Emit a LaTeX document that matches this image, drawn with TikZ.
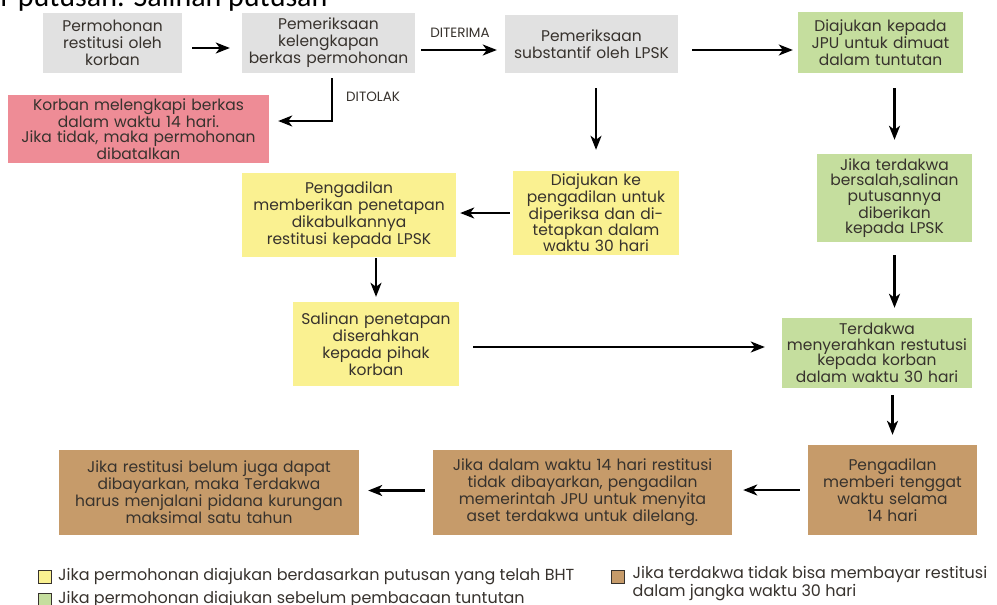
\documentclass[tikz,border=0pt]{standalone}
\usepackage{fontspec}
\setmainfont{Poppins}
\newfontfamily\atasfont{Carlito}
\usetikzlibrary{arrows.meta,positioning}
\definecolor{abu}{RGB}{225,225,225}
\definecolor{hijau}{RGB}{197,222,158}
\definecolor{kuning}{RGB}{250,241,145}
\definecolor{merah}{RGB}{238,140,150}
\definecolor{coklat}{RGB}{198,155,106}
\definecolor{tinta}{RGB}{55,50,45}

\begin{document}
\begin{tikzpicture}[x=1pt,y=-1pt,
	box/.style 2 args={inner xsep=0pt, inner ysep=2pt, align=center, text width=#1, minimum height=#2,
		font=\fontsize{15.5}{15.5}\selectfont, text=tinta},
	atas/.style={font=\fontsize{15.5}{17}\selectfont},
	arr/.style={-{Stealth[length=14pt,width=11pt,inset=4pt]}, line width=2.3pt},
	lbl/.style={font=\fontsize{13.5}{14}\selectfont, text=tinta, inner sep=0pt},
	legbox/.style={draw=tinta, line width=1pt, minimum size=13pt, inner sep=0pt},
	legtext/.style={font=\fontsize{16}{15}\selectfont, text=tinta, inner sep=0pt, align=left}]
	\useasboundingbox (0,0) rectangle (997,605);

	 \node[anchor=base west, inner sep=0pt, font=\atasfont\fontsize{30}{30}\selectfont] (judul) at (0.5,6) {r putusan. Salinan putusan};

	 \node[box={139pt}{60pt}, atas, fill=abu] (perm) at (112.5,43) {Permohonan\\restitusi oleh\\korban};
	 \node[box={173pt}{60pt}, atas, fill=abu] (lengkap) at (328.5,43) {Pemeriksaan\\kelengkapan\\berkas permohonan};
	 \node[box={173pt}{58pt}, atas, fill=abu] (subst) at (591.5,44) {Pemeriksaan\\substantif oleh LPSK};
	 \node[box={165pt}{61pt}, atas, fill=hijau] (jpu) at (880.5,42.5) {Diajukan kepada\\JPU untuk dimuat\\dalam tuntutan};
	 \node[box={261pt}{68pt}, fill=merah] (lengkapi) at (138.5,129) {Korban melengkapi berkas\\dalam waktu 14 hari.\\Jika tidak, maka permohonan\\dibatalkan};
	 \node[box={214pt}{84pt}, atas, fill=kuning] (tetap) at (349,215) {Pengadilan\\memberikan penetapan\\dikabulkannya\\restitusi kepada LPSK};
	 \node[box={166pt}{84pt}, fill=kuning] (ajukan) at (596,213) {Diajukan ke\\pengadilan untuk\\diperiksa dan di-\\tetapkan dalam\\waktu 30 hari};
	 \node[box={155pt}{88pt}, fill=hijau] (salah) at (894.5,198) {Jika terdakwa\\bersalah,salinan\\putusannya\\diberikan\\kepada LPSK};
	 \node[box={166pt}{84pt}, atas, fill=kuning] (salin) at (376,344) {Salinan penetapan\\diserahkan\\kepada pihak\\korban};
	 \node[box={190pt}{70pt}, fill=hijau] (serah) at (877,353) {Terdakwa\\menyerahkan restutusi\\kepada korban\\dalam waktu 30 hari};
	 \node[box={169pt}{90pt}, atas, fill=coklat] (tenggat) at (892.5,490) {Pengadilan\\memberi tenggat\\waktu selama\\14 hari};
	 \node[box={299pt}{85pt}, atas, fill=coklat] (sita) at (582.5,492.5) {Jika dalam waktu 14 hari restitusi\\tidak dibayarkan, pengadilan\\memerintah JPU untuk menyita\\aset terdakwa untuk dilelang.};
	 \node[box={300pt}{85pt}, atas, fill=coklat] (kurung) at (209,492.5) {Jika restitusi belum juga dapat\\dibayarkan, maka Terdakwa\\harus menjalani pidana kurungan\\maksimal satu tahun};

	 \draw[arr, shorten <=10pt, shorten >=12pt] ([yshift=-5pt]perm.east) -- ([yshift=-5pt]lengkap.west);
	 \draw[arr, shorten <=6pt, shorten >=8pt] ([yshift=-7pt]lengkap.east) -- node[lbl, yshift=17pt] {DITERIMA} ([yshift=-6pt]subst.west);
	 \draw[arr, shorten <=14pt, shorten >=5pt] ([yshift=-6pt]subst.east) -- ([yshift=-7.5pt]jpu.west);
	 \draw[arr, shorten <=5pt] ([xshift=3.5pt]lengkap.south) |- node[lbl, pos=0.25, anchor=west, xshift=13pt] {DITOLAK} ([xshift=9pt, yshift=8pt]lengkapi.east);
	 \draw[arr, shorten <=15pt, shorten >=21pt] (subst.south -| ajukan.north) -- (ajukan.north);
	 \draw[arr, shorten <=15pt, shorten >=14pt] (jpu.south -| salah.north) -- (salah.north);
	 \draw[arr, shorten <=13pt, shorten >=10pt] (salah.south) -- (salah.south |- serah.north);
	 \draw[arr, shorten <=3pt, shorten >=4pt] (ajukan.west) -- (ajukan.west -| tetap.east);
	 \draw[arr, shorten <=1pt, shorten >=5pt] (tetap.south -| salin.north) -- (salin.north);
	 \draw[arr, shorten <=14pt, shorten >=17pt] ([yshift=-3pt]salin.east) -- ([yshift=-3pt]salin.east -| serah.west);
	 \draw[arr, shorten <=7pt, shorten >=10pt] (serah.south -| tenggat.north) -- (tenggat.north);
	 \draw[arr, shorten <=8pt, shorten >=11pt] (tenggat.west) -- (tenggat.west -| sita.east);
	 \draw[arr, shorten <=8pt, shorten >=9pt] ([yshift=2pt]sita.west) -- ([yshift=2pt]kurung.east);

	 % keterangan warna
	 \node[legbox, fill=kuning] (lkuning) at (45,576.5) {};
	 \node[legtext, right=6pt of lkuning] (tkuning) {Jika permohonan diajukan berdasarkan putusan yang telah BHT};
	 \node[legbox, fill=hijau] (lhijau) at (45,599.5) {};
	 \node[legtext, right=6pt of lhijau] (thijau) {Jika permohonan diajukan sebelum pembacaan tuntutan};
	 \node[legbox, fill=coklat] (lcoklat) at (617.5,576.5) {};
	 \node[legtext, anchor=north west] (tcoklat) at ([xshift=8pt, yshift=3pt]lcoklat.north east) {Jika terdakwa tidak bisa membayar restitusi\\dalam jangka waktu 30 hari};
	\end{tikzpicture}
\end{document}
